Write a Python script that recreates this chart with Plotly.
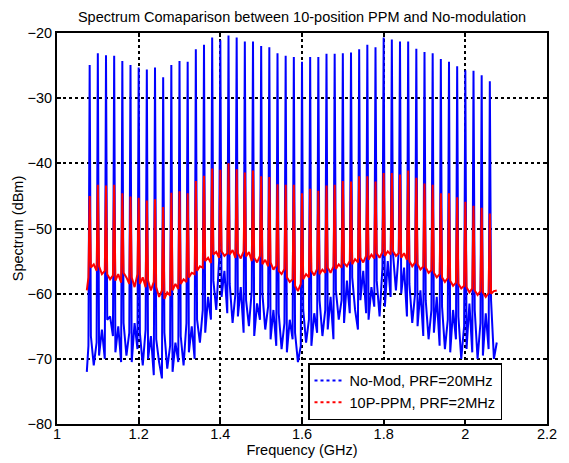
import plotly.graph_objects as go

# ---------------- data ----------------
start_freq = 1.073   # GHz, first sample of both spectra
end_freq = 2.077     # GHz, last sample of both spectra

spike_freq = [1.08, 1.10, 1.12, 1.14, 1.16, 1.18, 1.20, 1.22, 1.24, 1.26,
              1.28, 1.30, 1.32, 1.34, 1.36, 1.38, 1.40, 1.42, 1.44, 1.46,
              1.48, 1.50, 1.52, 1.54, 1.56, 1.58, 1.60, 1.62, 1.64, 1.66,
              1.68, 1.70, 1.72, 1.74, 1.76, 1.78, 1.80, 1.82, 1.84, 1.86,
              1.88, 1.90, 1.92, 1.94, 1.96, 1.98, 2.00, 2.02, 2.04, 2.06]

nomod_peak = [-24.9, -23.1, -23.4, -23.5, -24.3, -24.9, -25.3, -25.6, -25.3, -26.8,
              -24.9, -24.3, -24.4, -22.5, -21.8, -20.7, -21.1, -20.4, -20.7, -21.3,
              -21.3, -22.0, -22.2, -23.1, -23.5, -23.7, -24.4, -23.7, -23.7, -23.2,
              -23.2, -23.1, -23.0, -22.5, -21.8, -22.2, -20.7, -21.0, -21.3, -21.3,
              -22.4, -22.9, -23.1, -24.0, -24.4, -25.1, -25.7, -25.8, -26.5, -27.4]

ppm_peak = [-45.0, -43.3, -43.4, -43.3, -44.6, -45.1, -45.3, -45.7, -45.5, -46.7,
            -44.5, -44.3, -44.6, -42.7, -41.9, -40.8, -41.0, -40.0, -40.9, -41.4,
            -41.1, -42.0, -42.1, -43.2, -43.3, -43.3, -44.6, -43.9, -44.2, -43.4,
            -43.3, -42.7, -42.8, -42.0, -42.0, -42.8, -41.5, -41.5, -41.7, -41.1,
            -42.2, -43.1, -43.3, -44.6, -44.6, -45.2, -45.9, -46.5, -46.8, -47.7]

# noise floor between the spectral lines (3 samples per gap, 51 gaps)
nomod_floor = [
    [-72.0, -70.5, -68.0], [-66.5, -71.0, -67.5], [-69.5, -65.5, -70.0], [-64.0, -63.5, -66.5],
    [-69.0, -65.0, -70.5], [-64.5, -69.5, -66.0], [-70.5, -64.5, -68.5], [-66.0, -71.0, -65.5],
    [-70.0, -66.5, -72.5], [-67.0, -70.5, -73.0], [-66.0, -71.5, -68.0], [-72.0, -67.5, -70.5],
    [-66.5, -71.0, -64.5], [-69.0, -65.0, -70.0], [-64.0, -67.5, -62.5], [-66.0, -60.5, -64.0],
    [-58.0, -62.5, -55.0], [-60.5, -56.5, -63.0], [-58.5, -64.5, -60.0], [-63.5, -59.0, -66.0],
    [-61.0, -65.0, -59.5], [-66.5, -61.5, -64.0], [-60.0, -65.5, -62.0], [-67.0, -62.5, -68.0],
    [-63.0, -68.5, -64.5], [-69.0, -64.0, -67.0], [-66.0, -70.5, -68.0], [-62.5, -67.5, -64.0],
    [-68.0, -63.0, -66.0], [-61.0, -66.5, -62.5], [-65.5, -60.5, -67.0], [-59.5, -64.0, -61.0],
    [-64.5, -58.0, -63.0], [-57.5, -62.5, -65.5], [-61.0, -56.5, -63.0], [-64.0, -59.0, -62.0],
    [-58.0, -63.5, -56.0], [-62.0, -55.0, -60.5], [-54.0, -59.5, -53.5], [-60.0, -56.0, -63.5],
    [-58.5, -64.5, -60.0], [-65.0, -59.5, -66.5], [-61.0, -67.0, -62.5], [-66.0, -60.5, -68.0],
    [-62.0, -68.5, -64.0], [-69.0, -62.5, -67.0], [-63.5, -70.0, -65.0], [-68.5, -61.5, -69.0],
    [-62.5, -70.0, -64.5], [-69.5, -63.0, -68.5], [-61.0, -70.0, -67.5],
]

ppm_floor = [
    [-59.5, -58.5, -57.5], [-56.0, -55.5, -56.5], [-55.8, -57.0, -56.5], [-57.0, -57.8, -57.2],
    [-58.0, -57.0, -58.3], [-56.8, -57.5, -58.5], [-57.5, -59.0, -57.0], [-58.5, -57.5, -59.0],
    [-58.0, -59.5, -58.2], [-59.0, -60.5, -59.5], [-60.8, -59.8, -60.3], [-59.5, -58.5, -59.3],
    [-58.5, -57.8, -58.2], [-57.5, -56.8, -57.0], [-56.5, -55.8, -56.0], [-55.0, -54.5, -55.3],
    [-54.0, -53.6, -54.5], [-53.5, -54.2, -53.8], [-54.0, -53.3, -54.5], [-53.8, -54.6, -53.5],
    [-54.3, -53.6, -55.0], [-54.5, -55.2, -54.2], [-55.5, -54.8, -55.8], [-55.2, -56.3, -55.7],
    [-56.5, -57.0, -56.2], [-57.5, -58.2, -57.8], [-58.8, -59.6, -58.5], [-57.8, -57.0, -57.5],
    [-56.5, -57.2, -56.2], [-57.0, -56.3, -56.8], [-56.0, -56.8, -55.8], [-56.2, -55.5, -56.0],
    [-55.3, -55.8, -55.0], [-55.5, -54.7, -55.2], [-54.5, -55.2, -54.2], [-54.8, -54.0, -54.6],
    [-53.8, -54.5, -53.6], [-54.2, -53.5, -54.0], [-53.5, -54.2, -53.8], [-54.5, -53.8, -54.8],
    [-55.0, -55.8, -55.2], [-55.5, -56.3, -55.8], [-56.0, -56.8, -56.4], [-56.8, -57.5, -57.0],
    [-57.5, -58.2, -57.6], [-58.0, -58.8, -58.3], [-58.5, -59.2, -58.8], [-59.0, -59.8, -59.2],
    [-59.5, -60.2, -59.6], [-59.8, -60.5, -59.9], [-60.0, -59.6, -59.5],
]

series_names = ["No-Mod, PRF=20MHz", "10P-PPM, PRF=2MHz"]
series_colors = ["#0000ff", "#ff0000"]

HALF_W = 0.003  # GHz, half width of a spectral line's base


def build_trace(peaks, floor):
    xs, ys = [], []
    n = len(spike_freq)
    for g in range(n + 1):
        left = start_freq if g == 0 else spike_freq[g - 1] + HALF_W
        right = end_freq if g == n else spike_freq[g] - HALF_W
        xs += [left, (left + right) / 2, right]
        ys += list(floor[g])
        if g < n:
            xs.append(spike_freq[g])
            ys.append(peaks[g])
    return xs, ys


fig = go.Figure()
for peaks, floor, color in [(nomod_peak, nomod_floor, series_colors[0]),
                            (ppm_peak, ppm_floor, series_colors[1])]:
    x, y = build_trace(peaks, floor)
    fig.add_trace(go.Scatter(x=x, y=y, mode="lines", showlegend=False,
                             line=dict(color=color, width=2), hoverinfo="skip"))

# legend entries (dotted line samples as in the reference)
for name, color in zip(series_names, series_colors):
    fig.add_trace(go.Scatter(x=[None], y=[None], mode="lines", name=name,
                             line=dict(color=color, width=2, dash="dot")))

FONT = "Arial, Liberation Sans, sans-serif"
axis_common = dict(showgrid=True, gridcolor="black", griddash="dot", gridwidth=1.5,
                   showline=True, linecolor="black", linewidth=2, mirror="ticks",
                   ticks="inside", ticklen=4, tickcolor="black", tickwidth=1.5,
                   zeroline=False, automargin=False,
                   tickfont=dict(family=FONT, size=14.5, color="black"))

fig.update_layout(
    width=569, height=463,
    margin=dict(l=57, r=22, t=33, b=39),
    paper_bgcolor="white", plot_bgcolor="white",
    title=dict(text="Spectrum Comaparison between 10-position PPM and No-modulation",
               x=0.5, xref="paper", xanchor="center", y=1 - 17 / 463, yanchor="middle",
               font=dict(family=FONT, size=14.5, color="black")),
    xaxis=dict(range=[1, 2.2], dtick=0.2, tick0=1, ticklabelstandoff=-4,
               title=dict(text="Frequency (GHz)", standoff=2,
                          font=dict(family=FONT, size=14.5, color="black")),
               **axis_common),
    yaxis=dict(range=[-80, -20], dtick=10, tick0=-80,
               title=dict(text="Spectrum (dBm)", standoff=0,
                          font=dict(family=FONT, size=14.5, color="black")),
               **axis_common),
    legend=dict(x=(308 - 57) / 490, y=(424 - 363) / 391, xanchor="left", yanchor="top",
                bgcolor="white", bordercolor="black", borderwidth=1.5,
                font=dict(family=FONT, size=14.5, color="black"),
                tracegroupgap=0),
    showlegend=True,
)

fig.write_html("out.html")
